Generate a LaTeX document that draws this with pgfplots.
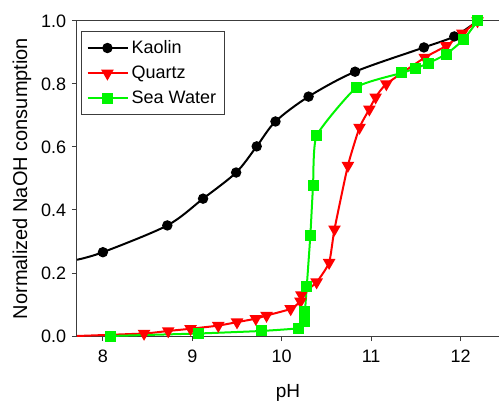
\documentclass[border=0pt]{standalone}
\usepackage{fontspec}
\setmainfont{Liberation Sans}
\usepackage{pgfplots}
\pgfplotsset{compat=1.18}
\definecolor{qred}{RGB}{255,0,0}
\definecolor{swgreen}{RGB}{0,245,0}
\definecolor{axgray}{RGB}{60,60,60}

\begin{document}
\begin{tikzpicture}
\begin{axis}[
    width=253.2pt, height=189pt,
    scale only axis,
    xmin=7.71, xmax=12.43,
    ymin=0, ymax=1,
    axis x line*=box,
    axis y line*=left,
    axis line style={-, axgray, line width=0.6pt},
    xtick pos=bottom, ytick pos=left,
    tick align=outside,
    major tick length=3pt,
    tick style={axgray, line width=0.6pt},
    xtick={8,9,10,11,12},
    ytick={0,0.2,0.4,0.6,0.8,1.0},
    /pgf/number format/assume math mode=true,
    yticklabel style={/pgf/number format/.cd, fixed, fixed zerofill, precision=1},
    ticklabel style={font=\fontsize{10.8}{12}\selectfont},
    xticklabel style={yshift=-2pt},
    xlabel={pH},
    ylabel={Normalized NaOH consumption},
    xlabel style={font=\fontsize{11.4}{13}\selectfont, yshift=-6pt},
    ylabel style={font=\fontsize{12}{14}\selectfont, yshift=-1pt},
    clip=false,
    legend style={at={(rel axis cs:0.0095,0.968)}, anchor=north west,
        draw=axgray, line width=0.6pt, font=\fontsize{10.8}{12}\selectfont,
        inner xsep=3pt, inner ysep=3.2pt, row sep=2pt},
    legend cell align=left,
    legend image code/.code={
        \draw[line width=1.2pt, mark indices={2}]
        plot coordinates {(0cm,0cm) (0.42cm,0cm) (0.84cm,0cm)};},
]
% Kaolin
\addplot[black, line width=1.2pt, smooth, tension=0.5, mark=*, mark size=2.5pt,
    mark indices={2,...,12}, mark options={solid, fill=black}] coordinates {
    (7.71,0.242) (8.00,0.266) (8.72,0.351) (9.12,0.436) (9.49,0.519)
    (9.72,0.602) (9.93,0.681) (10.30,0.760) (10.82,0.839) (11.59,0.916)
    (11.93,0.951) (12.19,1.0)
};
\addlegendentry{Kaolin}
% Quartz
\addplot[qred, line width=1.2pt, smooth, tension=0.3, mark=triangle*, mark size=3.2pt,
    mark indices={2,...,23}, mark options={solid, fill=qred, rotate=180}] coordinates {
    (7.71,0.0) (8.46,0.008) (8.73,0.016) (8.98,0.023) (9.29,0.033)
    (9.50,0.044) (9.71,0.055) (9.83,0.065) (10.10,0.086) (10.21,0.110)
    (10.22,0.130) (10.39,0.171) (10.53,0.233) (10.59,0.339) (10.74,0.541)
    (10.87,0.662) (10.98,0.720) (11.05,0.758) (11.17,0.800) (11.60,0.884)
    (11.84,0.921) (12.02,0.961) (12.19,1.0)
};
\addlegendentry{Quartz}
% Sea Water
\addplot[swgreen, line width=1.2pt, smooth, tension=0.3, mark=square*, mark size=2.7pt,
    mark indices={1,...,17}, mark options={solid, fill=swgreen}] coordinates {
    (8.08,0.0) (9.07,0.008) (9.77,0.016) (10.19,0.025) (10.26,0.045)
    (10.26,0.077) (10.28,0.158) (10.32,0.320) (10.35,0.477) (10.39,0.636)
    (10.84,0.790) (11.34,0.835) (11.50,0.850) (11.64,0.866) (11.84,0.895)
    (12.03,0.940) (12.19,1.0)
};
\addlegendentry{Sea Water}
\end{axis}
\pgfresetboundingbox
\path[use as bounding box] ([xshift=-46.2pt,yshift=-39pt]current axis.south west)
    rectangle ([yshift=12.6pt]current axis.north east);
\end{tikzpicture}
\end{document}
